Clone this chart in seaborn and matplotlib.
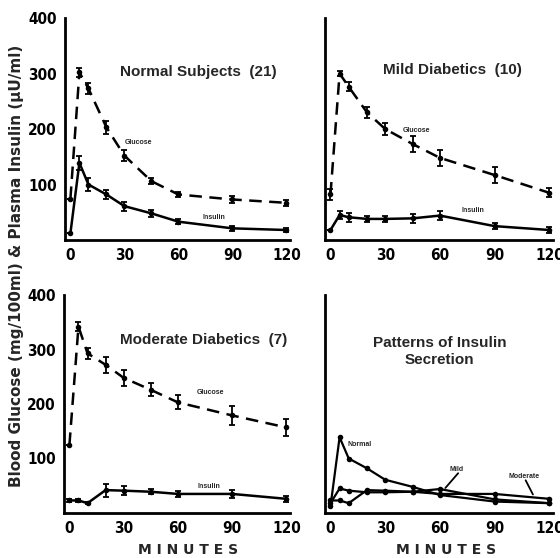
import numpy as np
import pandas as pd
import matplotlib
matplotlib.use("Agg")
import matplotlib.pyplot as plt
import seaborn as sns

sns.set_style("white")
plt.rcParams['font.family'] = ['Liberation Sans', 'DejaVu Sans']

minutes = [0, 5, 10, 20, 30, 45, 60, 90, 120]

normal_glucose = [74, 302, 273, 203, 152, 106, 82, 73, 67]
normal_glucose_err = [0, 8, 10, 12, 10, 5, 4, 6, 5]
normal_insulin = [12, 139, 100, 82, 61, 48, 33, 21, 18]
normal_insulin_err = [0, 12, 12, 8, 8, 6, 5, 4, 4]

mild_glucose = [82, 300, 276, 230, 200, 173, 148, 117, 85]
mild_glucose_err = [10, 5, 8, 10, 10, 14, 15, 15, 8]
mild_insulin = [18, 45, 41, 38, 38, 39, 44, 25, 18]
mild_insulin_err = [0, 8, 8, 6, 6, 8, 8, 6, 5]

moderate_glucose = [125, 342, 293, 272, 248, 226, 203, 179, 157]
moderate_glucose_err = [0, 8, 10, 15, 15, 12, 13, 17, 15]
moderate_insulin = [23, 23, 18, 42, 41, 39, 35, 35, 26]
moderate_insulin_err = [2, 2, 2, 12, 8, 5, 5, 8, 6]

yticks = [100, 200, 300, 400]
xticks = [0, 30, 60, 90, 120]

fig = plt.figure(figsize=(5.6, 5.58), dpi=100)
W, H = 560, 558
def pos(x0, y0, x1, y1):
    return [x0 / W, 1 - y1 / H, (x1 - x0) / W, (y1 - y0) / H]

ax_tl = fig.add_axes(pos(65, 18, 290, 240))
ax_tr = fig.add_axes(pos(325, 18, 553, 240))
ax_bl = fig.add_axes(pos(64, 295, 290, 513))
ax_br = fig.add_axes(pos(325, 295, 553, 513))

tickfont = dict(family='DejaVu Sans', stretch='condensed', weight='bold', size=11)

def style(ax, ylabels):
    ax.set_xlim(-3, 122)
    ax.set_ylim(0, 400)
    for s in ['top', 'right']:
        ax.spines[s].set_visible(False)
    for s in ['left', 'bottom']:
        ax.spines[s].set_linewidth(2.0)
        ax.spines[s].set_color('black')
    ax.set_xticks(xticks)
    ax.set_xticks([t for t in minutes if t not in xticks], minor=True)
    ax.set_yticks(yticks)
    ax.tick_params(axis='both', which='both', direction='in', length=4, width=1.5,
                   colors='black', pad=6)
    ax.tick_params(axis='y', which='major', length=6)
    ax.set_xticklabels([str(t) for t in xticks], fontdict=tickfont)
    if ylabels:
        ax.set_yticklabels([str(t) for t in yticks], fontdict=tickfont)
    else:
        ax.set_yticklabels([])
    ax.set_xlabel('')
    ax.set_ylabel('')

def panel(ax, glu, glu_err, ins, ins_err):
    df = pd.DataFrame({'minutes': minutes, 'glucose': glu, 'insulin': ins})
    sns.lineplot(data=df, x='minutes', y='glucose', ax=ax, color='black', lw=1.8,
                 linestyle=(0, (5, 3)), marker='o', markersize=4, markeredgewidth=0,
                 clip_on=False)
    sns.lineplot(data=df, x='minutes', y='insulin', ax=ax, color='black', lw=1.8,
                 marker='o', markersize=4, markeredgewidth=0, clip_on=False)
    ax.errorbar(minutes, glu, yerr=glu_err, fmt='none', ecolor='black', elinewidth=1.3,
                capsize=2.5, capthick=1.3)
    ax.errorbar(minutes, ins, yerr=ins_err, fmt='none', ecolor='black', elinewidth=1.3,
                capsize=2.5, capthick=1.3)

titlefont = dict(fontsize=11, fontweight='bold', ha='center', va='center')
smallfont = dict(fontsize=5, fontweight='bold', ha='center', va='center')

panel(ax_tl, normal_glucose, normal_glucose_err, normal_insulin, normal_insulin_err)
style(ax_tl, True)
ax_tl.text(71, 303, 'Normal Subjects  (21)', **titlefont)
ax_tl.text(38, 175, 'Glucose', **smallfont)
ax_tl.text(80, 41, 'Insulin', **smallfont)

panel(ax_tr, mild_glucose, mild_glucose_err, mild_insulin, mild_insulin_err)
style(ax_tr, False)
ax_tr.text(67, 306, 'Mild Diabetics  (10)', **titlefont)
ax_tr.text(47, 198, 'Glucose', **smallfont)
ax_tr.text(78, 54, 'Insulin', **smallfont)

panel(ax_bl, moderate_glucose, moderate_glucose_err, moderate_insulin, moderate_insulin_err)
style(ax_bl, True)
ax_bl.text(74, 317, 'Moderate Diabetics  (7)', **titlefont)
ax_bl.text(78, 222, 'Glucose', **smallfont)
ax_bl.text(77, 48, 'Insulin', **smallfont)

pat = pd.DataFrame({
    'minutes': minutes * 3,
    'insulin': normal_insulin + mild_insulin + moderate_insulin,
    'group': ['Normal'] * 9 + ['Mild'] * 9 + ['Moderate'] * 9,
})
sns.lineplot(data=pat, x='minutes', y='insulin', units='group', estimator=None,
             ax=ax_br, color='black', lw=1.6, marker='o', markersize=4,
             markeredgewidth=0, clip_on=False)
style(ax_br, False)
ax_br.text(60, 296, 'Patterns of Insulin\nSecretion', linespacing=1.3, **titlefont)
ax_br.text(16, 125, 'Normal', **smallfont)
ax_br.text(69, 80, 'Mild', **smallfont)
ax_br.text(106, 67, 'Moderate', **smallfont)
ax_br.plot([70, 63], [73, 46], color='black', lw=1.3)
ax_br.plot([107, 111], [60, 34], color='black', lw=1.3)

for ax, xc in ((ax_bl, 188), (ax_br, 446)):
    ax.set_xlabel('M I N U T E S', fontsize=10, fontfamily='DejaVu Sans',
                  fontweight='semibold', va='center')
    bb = ax.get_position()
    ax.xaxis.set_label_coords((xc / W - bb.x0) / bb.width,
                              ((1 - 550 / H) - bb.y0) / bb.height)

fig.text(0.030, 0.523, 'Blood Glucose (mg/100ml) & Plasma Insulin (\u03bcU/ml)',
         rotation=90, ha='center', va='center', fontsize=11, fontweight='bold',
         fontfamily='DejaVu Sans')

fig.savefig('out.png', dpi=100)
